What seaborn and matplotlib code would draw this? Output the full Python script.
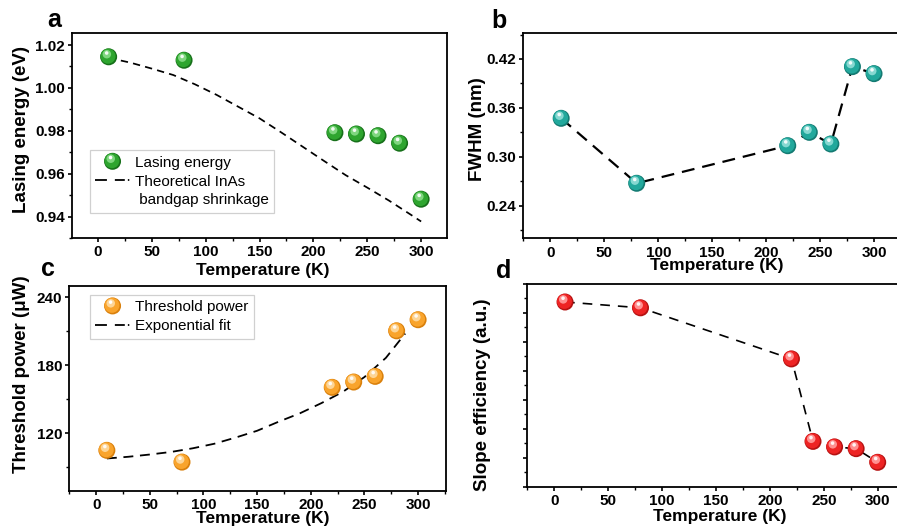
import matplotlib
matplotlib.use("Agg")
import matplotlib.pyplot as plt
import matplotlib.transforms as mtransforms
from matplotlib.patches import Circle
from matplotlib.lines import Line2D
from matplotlib.legend_handler import HandlerBase
from matplotlib.ticker import MultipleLocator, FormatStrFormatter
import seaborn as sns
import pandas as pd

# ---- measured data ----------------------------------------------------------
temperature = [10, 80, 220, 240, 260, 280, 300]
lasing_energy = [1.0145, 1.0129, 0.9791, 0.9785, 0.9777, 0.9742, 0.9481]
fwhm = [0.3472, 0.2675, 0.3136, 0.3300, 0.3157, 0.4106, 0.4020]
threshold_power = [104.7, 94.3, 160.4, 165.1, 170.1, 210.4, 220.2]
slope_efficiency = [6.37, 6.17, 4.41, 1.57, 1.38, 1.32, 0.85]

# theoretical InAs bandgap shrinkage curve
bandgap_T = [10, 30, 50, 70, 90, 110, 130, 150, 170, 190, 210, 230, 250, 270, 290, 300]
bandgap_E = [1.0140, 1.0118, 1.0090, 1.0060, 1.0017, 0.9968, 0.9913, 0.9858,
             0.9793, 0.9726, 0.9659, 0.9593, 0.9535, 0.9475, 0.9410, 0.9377]

# exponential fit of the threshold power
fit_T = [10, 30, 50, 70, 90, 110, 130, 150, 170, 190, 210, 230, 250, 270, 288]
fit_P = [97.5, 99.0, 101.0, 103.3, 106.5, 110.5, 116.0, 122.0, 130.0, 137.5,
         146.5, 156.5, 169.5, 186.5, 208.0]

# sphere shading: (dark rim, body, light, specular)
GREEN = ("#17701a", "#2ea52f", "#7fd67f", "#ffffff")
TEAL = ("#147a72", "#22a89c", "#86d8d1", "#ffffff")
ORANGE = ("#d9800c", "#f9a42c", "#fdd596", "#ffffff")
RED = ("#b51212", "#ee2424", "#ff9090", "#ffffff")

sns.set_theme(style="ticks")
plt.rcParams["font.family"] = ["Liberation Sans", "DejaVu Sans"]
plt.rcParams["axes.linewidth"] = 1.3
for key in ("text.color", "axes.labelcolor", "xtick.color", "ytick.color",
            "axes.edgecolor"):
    plt.rcParams[key] = "black"

W, H = 897, 526
fig = plt.figure(figsize=(W / 100, H / 100), dpi=100)


def px_axes(x0, y0, x1, y1):
    return fig.add_axes([x0 / W, 1 - y1 / H, (x1 - x0) / W, (y1 - y0) / H])


# (layer offset dx, dy in px, diameter in px, shade index)
SPHERE_LAYERS = [(0.0, 0.0, 17.0, 0), (-0.6, 0.6, 15.0, 1),
                 (-1.8, 2.6, 8.5, 2), (-2.0, 3.8, 3.6, 3)]


def spheres(ax, x, y, shades):
    df = pd.DataFrame({"x": x, "y": y})
    for dx, dy, d, k in SPHERE_LAYERS:
        s = (d * 0.72) ** 2
        tr = mtransforms.offset_copy(ax.transData, fig=fig, x=dx, y=dy, units="dots")
        if k == 0:
            sns.scatterplot(data=df, x="x", y="y", ax=ax, s=s, color=shades[k],
                            edgecolor="none", linewidth=0, zorder=5, legend=False)
        else:
            ax.scatter(df["x"], df["y"], s=s, color=shades[k], edgecolors="none",
                       transform=tr, zorder=5 + k, alpha=0.9 if k == 3 else 1.0)


def dashed(ax, x, y, lw, pattern):
    df = pd.DataFrame({"x": x, "y": y})
    sns.lineplot(data=df, x="x", y="y", ax=ax, sort=False, estimator=None,
                 color="black", lw=lw, linestyle=(0, pattern), zorder=3)


class SphereHandler(HandlerBase):
    def __init__(self, shades):
        super().__init__()
        self.shades = shades

    def create_artists(self, legend, orig_handle, xdescent, ydescent, width,
                       height, fontsize, trans):
        cx = width / 2 - xdescent
        cy = height / 2 - ydescent
        arts = []
        for dx, dy, d, k in SPHERE_LAYERS:
            c = Circle((cx + dx * 0.72, cy + dy * 0.72), d * 0.72 / 2,
                       facecolor=self.shades[k], edgecolor="none", transform=trans)
            arts.append(c)
        return arts


def style_axes(ax, xlim, ylim, ymajor, yminor, yfmt):
    ax.set_xlim(*xlim)
    ax.set_ylim(*ylim)
    ax.xaxis.set_major_locator(MultipleLocator(50))
    ax.xaxis.set_minor_locator(MultipleLocator(25))
    ax.yaxis.set_major_locator(MultipleLocator(ymajor))
    ax.yaxis.set_minor_locator(MultipleLocator(yminor))
    if yfmt:
        ax.yaxis.set_major_formatter(FormatStrFormatter(yfmt))
    for s in ax.spines.values():
        s.set_visible(True)
        s.set_color("black")
        s.set_linewidth(1.3)
    ax.tick_params(which="major", direction="out", length=3.2, width=1.2,
                   pad=2, labelsize=11, top=False, right=False, colors="black")
    ax.tick_params(which="minor", direction="out", length=2.0, width=1.0,
                   top=False, right=False, colors="black")
    for lab in ax.get_xticklabels() + ax.get_yticklabels():
        lab.set_fontweight("bold")
    ax.grid(False)


def labels(ax, xlabel, ylabel, xpos, ypos):
    ax.set_xlabel(xlabel, fontsize=12.5, fontweight="bold", color="black")
    ax.set_ylabel(ylabel, fontsize=13.5, fontweight="bold", color="black")
    ax.xaxis.set_label_coords(*xpos)
    ax.yaxis.set_label_coords(*ypos)


legend_kw = dict(fontsize=11, frameon=True, fancybox=False, framealpha=1,
                 edgecolor="#d0d0d0", borderaxespad=0, handlelength=2.25,
                 handletextpad=0.35, labelspacing=0.32, borderpad=0.35,
                 labelcolor="black")
legend_dash = (0, (6.6, 4.4, 5.5, 1.7, 0.8, 20))

# ---- (a) lasing energy ------------------------------------------------------
ax_a = px_axes(72, 33, 447, 238)
dashed(ax_a, bandgap_T, bandgap_E, 1.25, (4.2, 3.0))
spheres(ax_a, temperature, lasing_energy, GREEN)
style_axes(ax_a, (-24, 324), (0.930, 1.0256), 0.02, 0.01, "%.2f")
labels(ax_a, "Temperature (K)", "Lasing energy (eV)", (0.509, -0.122), (-0.112, 0.527))
h_sph = Line2D([], [], linestyle="none")
h_line = Line2D([], [], color="black", lw=1.3, linestyle=legend_dash)
h_blank = Line2D([], [], linestyle="none")
leg = ax_a.legend([h_sph, h_line, h_blank],
                  ["Lasing energy", "Theoretical InAs", " bandgap shrinkage"],
                  handler_map={h_sph: SphereHandler(GREEN)},
                  loc="lower left", bbox_to_anchor=(0.048, 0.123), **legend_kw)
leg.get_frame().set_linewidth(0.9)

# ---- (b) FWHM ---------------------------------------------------------------
ax_b = px_axes(523, 33.3, 901, 238.3)
dashed(ax_b, temperature, fwhm, 1.6, (5.8, 3.6))
spheres(ax_b, temperature, fwhm, TEAL)
style_axes(ax_b, (-25.4, 325), (0.200, 0.4515), 0.06, 0.03, "%.2f")
labels(ax_b, "Temperature (K)", "FWHM (nm)", (0.513, -0.098), (-0.098, 0.531))

# ---- (c) threshold power ----------------------------------------------------
ax_c = px_axes(69.3, 285.7, 446, 490.7)
dashed(ax_c, fit_T, fit_P, 1.3, (5.5, 3.7))
spheres(ax_c, temperature, threshold_power, ORANGE)
style_axes(ax_c, (-25, 326), (69, 250.3), 60, 30, "%d")
labels(ax_c, "Temperature (K)", "Threshold power (\u03bcW)", (0.514, -0.100), (-0.104, 0.569))
h_sph_c = Line2D([], [], linestyle="none")
h_line_c = Line2D([], [], color="black", lw=1.3, linestyle=legend_dash)
leg_c = ax_c.legend([h_sph_c, h_line_c], ["Threshold power", "Exponential fit"],
                    handler_map={h_sph_c: SphereHandler(ORANGE)},
                    loc="upper left", bbox_to_anchor=(0.055, 0.955), **legend_kw)
leg_c.get_frame().set_linewidth(0.9)

# ---- (d) slope efficiency ---------------------------------------------------
ax_d = px_axes(527.3, 283.7, 905.3, 487)
dashed(ax_d, temperature, slope_efficiency, 1.2, (5.8, 4.8))
spheres(ax_d, temperature, slope_efficiency, RED)
style_axes(ax_d, (-25, 325.6), (0, 7), 1, 0.5, None)
ax_d.tick_params(axis="y", labelleft=False)
labels(ax_d, "Temperature (K)", "Slope efficiency (a.u.)", (0.51, -0.107), (-0.096, 0.455))

# ---- panel letters ----------------------------------------------------------
for letter, x, y in [("a", 54, 27), ("b", 499, 28), ("c", 48, 276), ("d", 504, 278)]:
    fig.text(x / W, 1 - y / H, letter, fontsize=18, fontweight="bold",
             ha="center", va="baseline", color="black")

fig.savefig("out.png", dpi=100)
